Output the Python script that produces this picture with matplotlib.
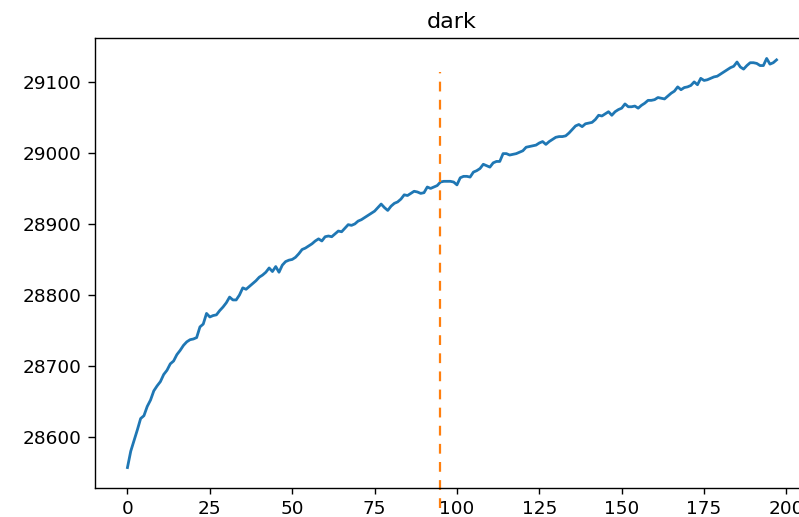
import numpy as np
import matplotlib
matplotlib.use("Agg")
import matplotlib.pyplot as plt

# Readings per step, 0..197
steps = np.arange(198)
readings = [
    28557, 28580, 28595, 28610, 28626, 28630, 28643, 28652, 28665, 28672,
    28678, 28688, 28694, 28703, 28707, 28716, 28722, 28729, 28734, 28737,
    28738, 28740, 28755, 28759, 28774, 28769, 28771, 28772, 28778, 28783,
    28789, 28797, 28793, 28793, 28800, 28810, 28808, 28812, 28816, 28820,
    28825, 28828, 28832, 28838, 28833, 28840, 28832, 28842, 28847, 28849,
    28850, 28853, 28858, 28864, 28866, 28869, 28872, 28876, 28879, 28876,
    28882, 28883, 28882, 28886, 28890, 28889, 28894, 28899, 28898, 28900,
    28904, 28906, 28909, 28912, 28915, 28918, 28923, 28928, 28923, 28919,
    28925, 28929, 28931, 28935, 28941, 28940, 28943, 28946, 28945, 28943,
    28944, 28952, 28950, 28952, 28954, 28959, 28960, 28960, 28960, 28959,
    28955, 28965, 28967, 28967, 28966, 28973, 28975, 28978, 28984, 28982,
    28980, 28986, 28988, 28988, 28999, 28999, 28997, 28998, 28999, 29001,
    29003, 29008, 29009, 29010, 29011, 29014, 29016, 29012, 29016, 29019,
    29022, 29023, 29023, 29024, 29028, 29033, 29038, 29040, 29037, 29041,
    29042, 29043, 29047, 29053, 29052, 29055, 29058, 29053, 29058, 29061,
    29063, 29069, 29065, 29065, 29066, 29063, 29067, 29070, 29074, 29074,
    29075, 29078, 29077, 29076, 29080, 29084, 29087, 29093, 29089, 29092,
    29093, 29095, 29100, 29096, 29105, 29102, 29103, 29105, 29107, 29108,
    29111, 29114, 29117, 29120, 29122, 29128, 29121, 29118, 29123, 29127,
    29127, 29126, 29123, 29123, 29133, 29125, 29127, 29131,
]

split_step = 95
split_low = 28500
split_high = 29114

fig = plt.figure(figsize=(7.99, 5.17), dpi=100)
ax = fig.add_axes([95 / 799, 29 / 517, 714 / 799, 450 / 517])

ax.plot(steps, readings, color="#1f77b4", lw=2.0)
# freeze the limits on the series so the split marker does not widen them
ax.autoscale_view()
ax.set_xlim(ax.get_xlim())
ax.set_ylim(ax.get_ylim())
ax.plot([split_step, split_step], [split_low, split_high], color="#ff7f0e",
        lw=1.6, dashes=(4.4, 3.75), clip_on=False)

ax.set_title("dark", fontsize=16, pad=7.3)
ax.tick_params(axis="y", labelsize=13.3, length=5, width=1.0, pad=5)
ax.tick_params(axis="x", labelsize=13.3, length=4.3, width=1.0, pad=4.3)
for s in ax.spines.values():
    s.set_linewidth(1.0)

fig.savefig("out.png", dpi=100)
